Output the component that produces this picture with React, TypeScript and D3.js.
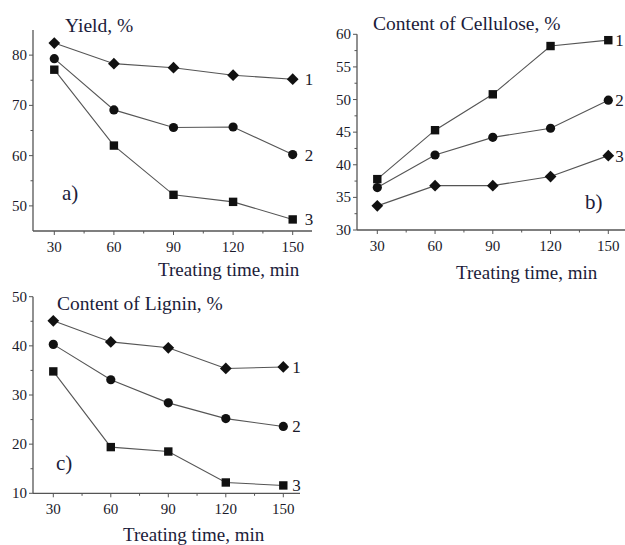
import React, { useEffect, useRef } from "react";
import * as d3 from "d3";

const times = [30, 60, 90, 120, 150];

const yieldS1 = [82.4, 78.3, 77.5, 76.0, 75.2];
const yieldS2 = [79.3, 69.1, 65.6, 65.7, 60.2];
const yieldS3 = [77.1, 62.0, 52.2, 50.8, 47.3];

const celluloseS1 = [37.8, 45.3, 50.8, 58.2, 59.1];
const celluloseS2 = [36.5, 41.5, 44.2, 45.6, 49.9];
const celluloseS3 = [33.7, 36.8, 36.8, 38.2, 41.4];

const ligninS1 = [45.1, 40.8, 39.6, 35.4, 35.7];
const ligninS2 = [40.3, 33.1, 28.4, 25.2, 23.6];
const ligninS3 = [34.8, 19.4, 18.5, 12.2, 11.6];

const yieldTicks = [50, 60, 70, 80];
const celluloseTicks = [30, 35, 40, 45, 50, 55, 60];
const ligninTicks = [10, 20, 30, 40, 50];

type Marker = "diamond" | "circle" | "square";

interface SeriesDef {
  values: number[];
  marker: Marker;
  label: string;
}

interface PanelDef {
  title: string;
  letter: string;
  series: SeriesDef[];
  yDomain: [number, number];
  yTicks: number[];
  xRange: [number, number];
  yRange: [number, number];
  axisLeft: number;
  axisRight: number;
  titlePos: [number, number];
  letterPos: [number, number];
  xTitlePos: [number, number];
  labelDx: number;
}

const FONT = "'Liberation Serif', 'Times New Roman', serif";

const panels: PanelDef[] = [
  {
    title: "Yield, %",
    letter: "a)",
    series: [
      { values: yieldS1, marker: "diamond", label: "1" },
      { values: yieldS2, marker: "circle", label: "2" },
      { values: yieldS3, marker: "square", label: "3" },
    ],
    yDomain: [45, 85],
    yTicks: yieldTicks,
    xRange: [54.3, 292.7],
    yRange: [231, 30],
    axisLeft: 33,
    axisRight: 312,
    titlePos: [65, 32],
    letterPos: [62, 200],
    xTitlePos: [158, 276],
    labelDx: 12,
  },
  {
    title: "Content of Cellulose, %",
    letter: "b)",
    series: [
      { values: celluloseS1, marker: "square", label: "1" },
      { values: celluloseS2, marker: "circle", label: "2" },
      { values: celluloseS3, marker: "diamond", label: "3" },
    ],
    yDomain: [30, 60],
    yTicks: celluloseTicks,
    xRange: [377.3, 608.3],
    yRange: [230, 34.3],
    axisLeft: 357,
    axisRight: 630,
    titlePos: [373, 30],
    letterPos: [585, 209],
    xTitlePos: [456, 279],
    labelDx: 7,
  },
  {
    title: "Content of Lignin, %",
    letter: "c)",
    series: [
      { values: ligninS1, marker: "diamond", label: "1" },
      { values: ligninS2, marker: "circle", label: "2" },
      { values: ligninS3, marker: "square", label: "3" },
    ],
    yDomain: [10, 50],
    yTicks: ligninTicks,
    xRange: [53.3, 283.3],
    yRange: [493.3, 296.7],
    axisLeft: 33,
    axisRight: 300,
    titlePos: [57, 310],
    letterPos: [56, 470],
    xTitlePos: [123, 541],
    labelDx: 9,
  },
];

function drawPanel(g: d3.Selection<SVGGElement, unknown, null, undefined>, p: PanelDef) {
  const x = d3.scaleLinear().domain([30, 150]).range(p.xRange);
  const y = d3.scaleLinear().domain(p.yDomain).range(p.yRange);
  const axisColor = "#555";
  const textColor = "#1a1a2a";
  const bottom = p.yRange[0];
  const top = p.yRange[1];

  g.append("line")
    .attr("x1", p.axisLeft).attr("x2", p.axisLeft)
    .attr("y1", top).attr("y2", bottom)
    .attr("stroke", axisColor).attr("stroke-width", 1.3);
  g.append("line")
    .attr("x1", p.axisLeft).attr("x2", p.axisRight)
    .attr("y1", bottom).attr("y2", bottom)
    .attr("stroke", axisColor).attr("stroke-width", 1.3);

  times.forEach((t) => {
    g.append("line")
      .attr("x1", x(t)).attr("x2", x(t))
      .attr("y1", bottom).attr("y2", bottom + 4)
      .attr("stroke", axisColor).attr("stroke-width", 1);
    g.append("text")
      .attr("x", x(t)).attr("y", bottom + 21)
      .attr("text-anchor", "middle")
      .attr("font-family", FONT).attr("font-size", 15)
      .attr("fill", textColor)
      .text(String(t));
  });
  [45, 75, 105, 135].forEach((t) => {
    g.append("line")
      .attr("x1", x(t)).attr("x2", x(t))
      .attr("y1", bottom).attr("y2", bottom + 2.5)
      .attr("stroke", axisColor).attr("stroke-width", 1);
  });

  const step = p.yTicks[1] - p.yTicks[0];
  p.yTicks.forEach((v) => {
    g.append("line")
      .attr("x1", p.axisLeft - 4).attr("x2", p.axisLeft)
      .attr("y1", y(v)).attr("y2", y(v))
      .attr("stroke", axisColor).attr("stroke-width", 1);
    g.append("text")
      .attr("x", p.axisLeft - 6).attr("y", y(v) + 5)
      .attr("text-anchor", "end")
      .attr("font-family", FONT).attr("font-size", 15)
      .attr("fill", textColor)
      .text(String(v));
  });
  const minors: number[] = [];
  for (let v = p.yTicks[0] - step / 2; v < p.yDomain[1]; v += step) {
    if (v > p.yDomain[0] && v < p.yDomain[1] && !p.yTicks.includes(v)) minors.push(v);
  }
  minors.forEach((v) => {
    g.append("line")
      .attr("x1", p.axisLeft - 2.5).attr("x2", p.axisLeft)
      .attr("y1", y(v)).attr("y2", y(v))
      .attr("stroke", axisColor).attr("stroke-width", 1);
  });

  const line = d3.line<number>()
    .x((_, i) => x(times[i]))
    .y((d) => y(d));
  p.series.forEach((s) => {
    g.append("path")
      .attr("d", line(s.values) as string)
      .attr("fill", "none")
      .attr("stroke", "#555")
      .attr("stroke-width", 1.1);
    s.values.forEach((v, i) => {
      const cx = x(times[i]);
      const cy = y(v);
      if (s.marker === "circle") {
        g.append("circle").attr("cx", cx).attr("cy", cy).attr("r", 4.6).attr("fill", "#111");
      } else if (s.marker === "square") {
        g.append("rect").attr("x", cx - 4.2).attr("y", cy - 4.2)
          .attr("width", 8.4).attr("height", 8.4).attr("fill", "#111");
      } else {
        const sym = d3.symbol().type(d3.symbolDiamond2).size(88);
        g.append("path").attr("d", sym() as string)
          .attr("transform", `translate(${cx},${cy})`)
          .attr("fill", "#111");
      }
    });
    const last = s.values[s.values.length - 1];
    g.append("text")
      .attr("x", x(150) + p.labelDx).attr("y", y(last) + 6)
      .attr("font-family", FONT).attr("font-size", 17)
      .attr("fill", textColor)
      .text(s.label);
  });

  g.append("text")
    .attr("x", p.titlePos[0]).attr("y", p.titlePos[1])
    .attr("font-family", FONT).attr("font-size", 19.5)
    .attr("fill", "#1c1c3a")
    .text(p.title);
  g.append("text")
    .attr("x", p.letterPos[0]).attr("y", p.letterPos[1])
    .attr("font-family", FONT).attr("font-size", 21)
    .attr("fill", "#1c1c3a")
    .text(p.letter);
  g.append("text")
    .attr("x", p.xTitlePos[0]).attr("y", p.xTitlePos[1])
    .attr("font-family", FONT).attr("font-size", 19)
    .attr("fill", "#1c1c3a")
    .text("Treating time, min");
}

export default function App() {
  const ref = useRef<SVGSVGElement>(null);
  useEffect(() => {
    document.body.style.margin = "0";
    const svg = d3.select(ref.current as SVGSVGElement);
    svg.selectAll("*").remove();
    panels.forEach((p) => {
      const g = svg.append("g");
      drawPanel(g, p);
    });
  }, []);
  return (
    <svg ref={ref} width={625} height={545} style={{ display: "block", background: "#fff" }} />
  );
}
